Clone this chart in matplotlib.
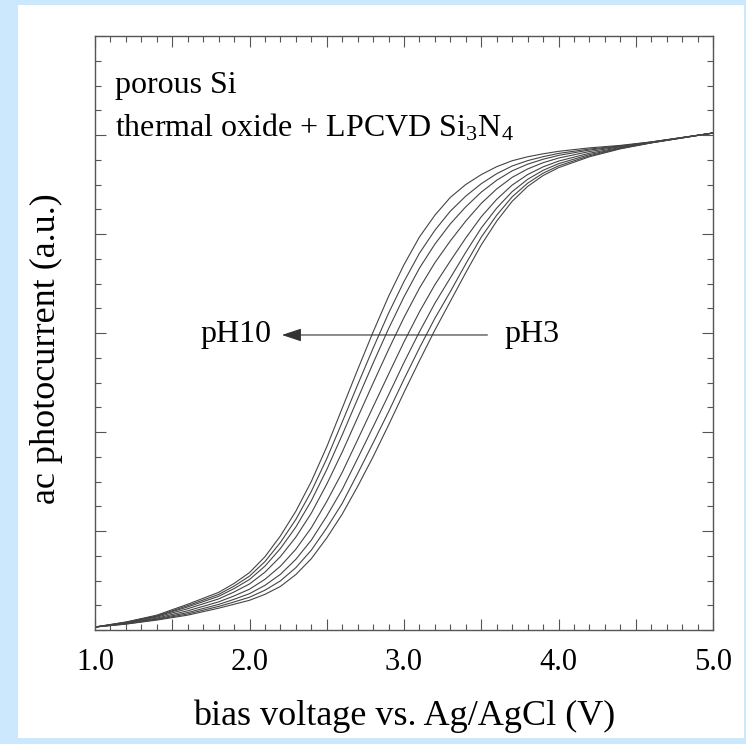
import matplotlib
matplotlib.use("Agg")
import matplotlib.pyplot as plt
from matplotlib.patches import Rectangle
from matplotlib.ticker import MultipleLocator, FuncFormatter

plt.rcParams["font.family"] = ["Liberation Serif", "DejaVu Serif"]
plt.rcParams["mathtext.fontset"] = "custom"
plt.rcParams["mathtext.rm"] = "Liberation Serif"
plt.rcParams["mathtext.default"] = "regular"

# bias voltage grid (V)
bias = [1.0, 1.2, 1.4, 1.6, 1.8, 1.9, 2.0, 2.1, 2.2, 2.3, 2.4, 2.5, 2.6, 2.7, 2.8,
        2.9, 3.0, 3.1, 3.2, 3.3, 3.4, 3.5, 3.6, 3.7, 3.8, 3.9, 4.0, 4.2, 4.4, 4.6,
        4.8, 5.0]

# ac photocurrent (a.u.), pH10 (left) ... pH3 (right)
ph10 = [0.03, 0.08, 0.15, 0.26, 0.38, 0.47, 0.58, 0.74, 0.95, 1.20, 1.50, 1.85,
        2.24, 2.63, 3.01, 3.37, 3.69, 3.97, 4.19, 4.37, 4.50, 4.60, 4.68, 4.74,
        4.78, 4.81, 4.835, 4.87, 4.895, 4.93, 4.975, 5.02]
ph9 = [0.03, 0.08, 0.143, 0.246, 0.359, 0.443, 0.544, 0.691, 0.884, 1.117, 1.399,
       1.73, 2.10, 2.477, 2.846, 3.20, 3.52, 3.806, 4.038, 4.231, 4.383, 4.508,
       4.609, 4.687, 4.741, 4.781, 4.814, 4.858, 4.89, 4.929, 4.974, 5.02]
ph8 = [0.03, 0.075, 0.138, 0.233, 0.34, 0.418, 0.51, 0.645, 0.823, 1.04, 1.305,
       1.62, 1.97, 2.335, 2.695, 3.043, 3.365, 3.655, 3.898, 4.103, 4.275, 4.423,
       4.543, 4.638, 4.705, 4.755, 4.794, 4.848, 4.886, 4.928, 4.974, 5.02]
ph7 = [0.03, 0.07, 0.13, 0.215, 0.314, 0.384, 0.465, 0.584, 0.741, 0.938, 1.18,
       1.473, 1.797, 2.146, 2.493, 2.833, 3.157, 3.453, 3.71, 3.931, 4.131, 4.309,
       4.455, 4.572, 4.657, 4.72, 4.767, 4.833, 4.881, 4.926, 4.973, 5.02]
ph6 = [0.03, 0.07, 0.12, 0.194, 0.284, 0.344, 0.412, 0.512, 0.644, 0.816, 1.032,
       1.298, 1.592, 1.922, 2.254, 2.584, 2.91, 3.214, 3.488, 3.728, 3.96, 4.174,
       4.35, 4.494, 4.60, 4.678, 4.736, 4.816, 4.874, 4.924, 4.972, 5.02]
ph5 = [0.03, 0.065, 0.112, 0.176, 0.258, 0.31, 0.367, 0.451, 0.562, 0.714, 0.907,
       1.151, 1.419, 1.733, 2.052, 2.374, 2.702, 3.012, 3.301, 3.557, 3.816, 4.06,
       4.262, 4.428, 4.552, 4.643, 4.71, 4.802, 4.868, 4.922, 4.971, 5.02]
ph4 = [0.03, 0.06, 0.106, 0.162, 0.238, 0.283, 0.331, 0.402, 0.496, 0.63, 0.806,
       1.031, 1.279, 1.58, 1.889, 2.204, 2.533, 2.849, 3.149, 3.418, 3.699, 3.968,
       4.19, 4.375, 4.513, 4.614, 4.688, 4.79, 4.864, 4.921, 4.971, 5.02]
ph3 = [0.03, 0.06, 0.10, 0.15, 0.22, 0.26, 0.30, 0.36, 0.44, 0.56, 0.72, 0.93,
       1.17, 1.45, 1.75, 2.07, 2.40, 2.72, 3.03, 3.32, 3.61, 3.89, 4.13, 4.33,
       4.48, 4.59, 4.67, 4.78, 4.86, 4.92, 4.97, 5.02]

curves = [ph10, ph9, ph8, ph7, ph6, ph5, ph4, ph3]

fig = plt.figure(figsize=(7.46, 7.44), dpi=100)
fig.patch.set_facecolor("#cce8fc")
# white panel behind the plot
fig.patches.append(Rectangle((18 / 746, 6 / 744), 726 / 746, 733 / 744,
                             transform=fig.transFigure, facecolor="white",
                             edgecolor="none", zorder=-10))

ax = fig.add_axes([95 / 746, 1 - 630 / 744, 618 / 746, 594 / 744])
ax.set_zorder(5)
ax.set_facecolor("white")

for y in curves:
    ax.plot(bias, y, color="#444444", lw=0.8)

ax.set_xlim(1.0, 5.0)
ax.set_ylim(0, 6)

ax.xaxis.set_major_locator(MultipleLocator(0.5))
ax.xaxis.set_minor_locator(MultipleLocator(0.1))
ax.xaxis.set_major_formatter(FuncFormatter(
    lambda v, p: "%.1f" % v if abs(v - round(v)) < 1e-6 else ""))
ax.yaxis.set_major_locator(MultipleLocator(1))
ax.yaxis.set_minor_locator(MultipleLocator(0.25))
ax.set_yticklabels([])
ax.tick_params(which="both", direction="in", top=True, right=True,
               color="#555555", width=0.8)
ax.tick_params(which="major", length=8)
ax.tick_params(which="minor", length=4.5)
ax.tick_params(axis="x", which="major", labelsize=22, pad=13)
for s in ax.spines.values():
    s.set_color("#555555")
    s.set_linewidth(1.0)

ax.set_xlabel("bias voltage vs. Ag/AgCl (V)", fontsize=26, labelpad=16)
ax.set_ylabel("ac photocurrent (a.u.)", fontsize=26)
ax.yaxis.set_label_coords(-0.052, 0.473)

ax.text(1.13, 5.42, "porous Si", fontsize=23, va="baseline")
ax.text(1.13, 4.98, "thermal oxide + LPCVD Si$_3$N$_4$", fontsize=23,
        va="baseline")

ax.annotate("", xy=(2.21, 2.98), xytext=(3.54, 2.98),
            arrowprops=dict(arrowstyle="-|>,head_length=1.2,head_width=0.4",
                            color="#333333", lw=0.8, shrinkA=0, shrinkB=0))
ax.text(2.14, 2.98, "pH10", fontsize=23, ha="right", va="center")
ax.text(3.65, 2.98, "pH3", fontsize=23, ha="left", va="center")

fig.savefig("out.png", dpi=100, facecolor=fig.get_facecolor())
